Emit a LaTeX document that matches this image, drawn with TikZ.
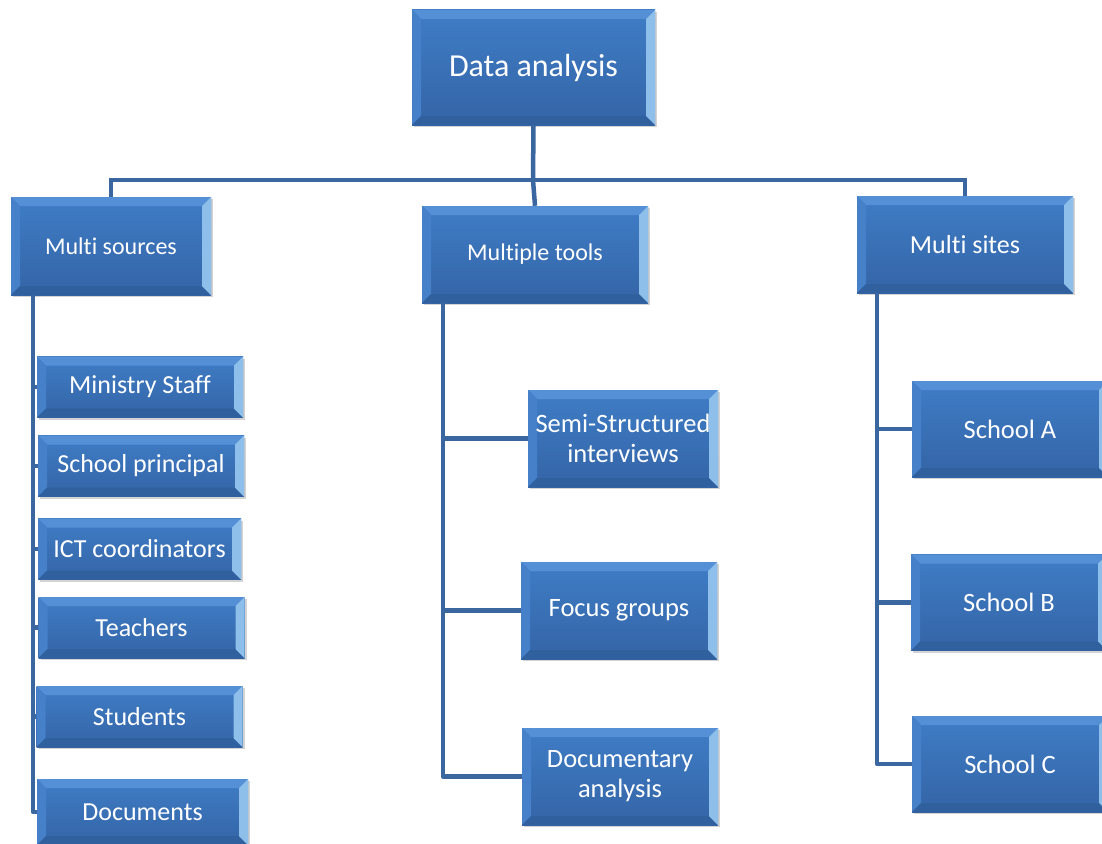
\documentclass[tikz,border=0pt]{standalone}
\usepackage{fontspec}
\setmainfont[Ligatures=NoCommon]{Carlito}
\usetikzlibrary{shadows}
\definecolor{boxtop}{HTML}{3F7DC6}
\definecolor{boxbot}{HTML}{3464A6}
\definecolor{bevtop}{HTML}{5590D6}
\definecolor{bevleft}{HTML}{4580C8}
\definecolor{bevright}{HTML}{8EBEEA}
\definecolor{bevbot}{HTML}{30609E}
\definecolor{linecol}{HTML}{3B67A0}
\newcommand{\bev}{9pt}
\tikzset{
  bluebox/.style={rectangle, inner sep=2pt, text=white, align=center,
    top color=boxtop, bottom color=boxbot,
    drop shadow={opacity=0.35, shadow xshift=2pt, shadow yshift=-2pt},
    path picture={
      \fill[bevtop] (path picture bounding box.north west) -- (path picture bounding box.north east)
        -- ([xshift=-\bev,yshift=-\bev]path picture bounding box.north east)
        -- ([xshift=\bev,yshift=-\bev]path picture bounding box.north west) -- cycle;
      \fill[bevleft] (path picture bounding box.north west) -- (path picture bounding box.south west)
        -- ([xshift=\bev,yshift=\bev]path picture bounding box.south west)
        -- ([xshift=\bev,yshift=-\bev]path picture bounding box.north west) -- cycle;
      \fill[bevbot] (path picture bounding box.south west) -- (path picture bounding box.south east)
        -- ([xshift=-\bev,yshift=\bev]path picture bounding box.south east)
        -- ([xshift=\bev,yshift=\bev]path picture bounding box.south west) -- cycle;
      \fill[bevright] (path picture bounding box.north east) -- (path picture bounding box.south east)
        -- ([xshift=-\bev,yshift=\bev]path picture bounding box.south east)
        -- ([xshift=-\bev,yshift=-\bev]path picture bounding box.north east) -- cycle;
    }},
  conn/.style={draw=linecol, line width=4.5pt},
}
\begin{document}
\begin{tikzpicture}[x=1pt,y=-1pt]
\useasboundingbox (0,0) rectangle (1102,843);
\coordinate (bus) at (533,180);
\coordinate (lv) at (33,295);
\coordinate (mv) at (443,303);
\coordinate (rv) at (877,293);
% nodes
\node[bluebox, minimum width=243pt, minimum height=115pt, font=\fontsize{32}{36}\selectfont] (da) at (533.5,67.5) {Data analysis};
\node[bluebox, minimum width=200pt, minimum height=98pt, font=\fontsize{24}{28}\selectfont] (msrc) at (111,246) {Multi sources};
\node[bluebox, minimum width=226pt, minimum height=97pt, font=\fontsize{24}{28}\selectfont] (mtools) at (535,254.5) {Multiple tools};
\node[bluebox, minimum width=216pt, minimum height=97pt, font=\fontsize{26}{30}\selectfont] (msites) at (965,244.5) {Multi sites};
% left children
\tikzset{lchild/.style={bluebox, minimum width=206pt, minimum height=61pt, font=\fontsize{26}{30}\selectfont}}
\node[lchild] (c1) at (140,387) {Ministry Staff};
\node[lchild] (c2) at (141,466) {School principal};
\node[lchild, minimum width=203pt] (c3) at (139.5,549) {ICT coordinators};
\node[lchild] (c4) at (141.5,627.5) {Teachers};
\node[lchild] (c5) at (139.5,716.5) {Students};
\node[lchild, minimum width=211pt, minimum height=66pt] (c6) at (142.5,812) {Documents};
% middle children
\tikzset{mchild/.style={bluebox, minimum width=196pt, minimum height=97pt, font=\fontsize{26.5}{30}\selectfont}}
\node[mchild, minimum width=190pt] (t1) at (623,438.5) {Semi-Structured\\interviews};
\node[mchild] (t2) at (619,610.5) {Focus groups};
\node[mchild] (t3) at (620,776.5) {Documentary\\analysis};
% right children
\tikzset{rchild/.style={bluebox, minimum width=196pt, minimum height=96pt, font=\fontsize{26.5}{30}\selectfont}}
\node[rchild] (s1) at (1010,429) {School A};
\node[rchild] (s2) at (1009,602.5) {School B};
\node[rchild] (s3) at (1010,764) {School C};
% connectors
\draw[conn] (da.south) -- (bus) -- (mtools.north);
\draw[conn] (msrc.north) |- (bus) -| (msites.north);
\draw[conn, line join=round] (lv) |- (c6.west);
\foreach \n in {c1,c2,c3,c4,c5} \draw[conn] (lv |- \n.west) -- (\n.west);
\draw[conn, line join=round] (mv) |- (t3.west);
\foreach \n in {t1,t2} \draw[conn] (mv |- \n.west) -- (\n.west);
\draw[conn, line join=round] (rv) |- (s3.west);
\foreach \n in {s1,s2} \draw[conn] (rv |- \n.west) -- (\n.west);
\end{tikzpicture}
\end{document}
